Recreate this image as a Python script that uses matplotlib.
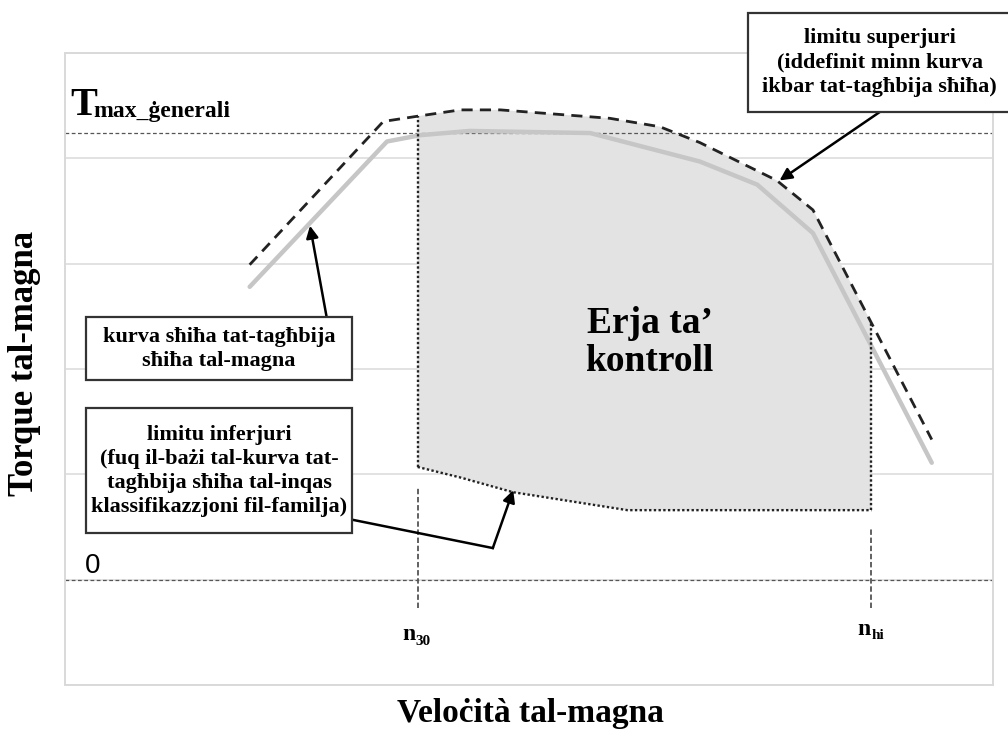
import numpy as np
import matplotlib

matplotlib.use('Agg')
import matplotlib.pyplot as plt
from matplotlib.patches import Rectangle

# curves (x: engine speed, y: torque, arbitrary units)
full_x = [19.9, 34.7, 38.3, 43.6, 56.6, 68.4, 74.6, 80.6, 93.4]
full_y = [3.78, 5.16, 5.22, 5.26, 5.24, 4.97, 4.75, 4.29, 2.11]
upper_x = [19.9, 34.3, 38.0, 42.6, 46.9, 58.7, 64.1, 68.4, 76.7, 80.6, 93.4]
upper_y = [3.99, 5.35, 5.40, 5.46, 5.46, 5.38, 5.30, 5.15, 4.79, 4.51, 2.33]
lower_x = [38.0, 42.6, 48.3, 60.6, 86.9]
lower_y = [2.07, 1.97, 1.83, 1.66, 1.66]
n30 = 38.0
nhi = 86.9
t_max = 5.245
t_zero = 1.0

box_upper = 'limitu superjuri\n(iddefinit minn kurva\nikbar tat-tagħbija sħiħa)'
box_full = 'kurva sħiħa tat-tagħbija\nsħiħa tal-magna'
box_lower = ('limitu inferjuri\n(fuq il-bażi tal-kurva tat-\ntagħbija sħiħa tal-inqas\n'
             'klassifikazzjoni fil-familja)')
area_label = 'Erja ta’\nkontroll'

serif = 'Liberation Serif'

fig = plt.figure(figsize=(10.08, 7.31), dpi=100)
ax = fig.add_axes([65 / 1008, 46 / 731, 928 / 1008, 632 / 731])
ax.set_xlim(0, 100)
ax.set_ylim(0, 6)
ax.set_xticks([])
ax.set_yticks(range(7))
ax.set_yticklabels([])
ax.tick_params(length=0)
ax.yaxis.grid(color='#e2e2e2', lw=1.4)
ax.set_axisbelow(True)
for s in ax.spines.values():
    s.set_color('#d9d9d9')
    s.set_linewidth(1.4)

# control area: between lower and upper limit, from n30 to nhi
top_x = [n30] + [x for x in upper_x if n30 < x < nhi] + [nhi]
top_y = list(np.interp(top_x, upper_x, upper_y))
poly_x = top_x + lower_x[::-1]
poly_y = top_y + lower_y[::-1]
ax.fill(poly_x, poly_y, color='#e3e3e3', lw=0, zorder=1)

# reference lines
ax.axhline(t_max, color='#555555', lw=0.9, ls=(0, (3, 2)), zorder=2)
ax.axhline(t_zero, color='#555555', lw=0.9, ls=(0, (3, 2)), zorder=2)

ax.plot(full_x, full_y, color='#c6c6c6', lw=3.2, solid_capstyle='round', zorder=3)
ax.plot(upper_x, upper_y, color='#222222', lw=2.0, ls=(0, (4, 2.6)), zorder=4)
ax.plot(lower_x, lower_y, color='#222222', lw=1.7, ls=(0, (1, 1)), zorder=4)

for xv, lo in [(n30, lower_y[0]), (nhi, lower_y[-1])]:
    ax.plot([xv, xv], [lo, np.interp(xv, upper_x, upper_y)], color='#222222', lw=1.7,
            ls=(0, (1, 1)), zorder=4)
ax.plot([n30, n30], [0.73, 1.88], color='#555555', lw=1.3, ls=(0, (3, 1.5)), zorder=2)
ax.plot([nhi, nhi], [0.73, 1.50], color='#555555', lw=1.3, ls=(0, (3, 1.5)), zorder=2)

# labels on the axes
ax.text(0.55, 5.41, 'T', fontsize=29, family=serif, weight='bold', va='baseline', ha='left')
ax.text(3.0, 5.39, 'max_ġenerali', fontsize=17, family=serif, weight='bold', va='baseline',
        ha='left')
ax.text(2.1, 1.063, '0', fontsize=20, family='Liberation Sans', va='baseline', ha='left')
ax.text(36.4, 0.43, 'n', fontsize=17, family=serif, weight='bold', va='baseline')
ax.text(37.8, 0.38, '30', fontsize=11, family=serif, weight='bold', va='baseline')
ax.text(85.4, 0.47, 'n', fontsize=17, family=serif, weight='bold', va='baseline')
ax.text(86.9, 0.44, 'hi', fontsize=11, family=serif, weight='bold', va='baseline')
ax.text(63.0, 3.25, area_label, fontsize=27, family=serif, weight='bold', ha='center',
        va='center', linespacing=1.1, zorder=6)


def box(x0, x1, y0, y1, text, cx, cy):
    ax.add_patch(Rectangle((x0, y0), x1 - x0, y1 - y0, facecolor='white', edgecolor='#333333',
                           lw=1.6, zorder=7, clip_on=False))
    ax.text(cx, cy, text, fontsize=16, family=serif, weight='bold', ha='center', va='center',
            linespacing=1.27, zorder=8, clip_on=False)


box(73.6, 102.0, 5.44, 6.38, box_upper, 87.8, 5.91)
box(2.26, 30.9, 2.90, 3.49, box_full, 16.6, 3.19)
box(2.26, 30.9, 1.44, 2.63, box_lower, 16.6, 2.03)

arrow = dict(arrowstyle='-|>', color='black', lw=1.8, mutation_scale=18, shrinkA=0, shrinkB=0)
ax.annotate('', xy=(77.0, 4.79), xytext=(87.8, 5.44), arrowprops=arrow, zorder=6)
ax.annotate('', xy=(26.4, 4.36), xytext=(28.2, 3.49), arrowprops=arrow, zorder=6)
ax.plot([30.9, 46.1], [1.57, 1.30], color='black', lw=1.8, zorder=6)
ax.annotate('', xy=(48.3, 1.85), xytext=(46.1, 1.30), arrowprops=arrow, zorder=6)

fig.text(25 / 1008, 1 - 363 / 731, 'Torque tal-magna', rotation=90, fontsize=25, family=serif,
         weight='bold', ha='center', va='center')
fig.text(530 / 1008, 1 - 722 / 731, 'Veloċità tal-magna', fontsize=24, family=serif,
         weight='bold', ha='center', va='baseline')

fig.savefig('out.png', dpi=100)
